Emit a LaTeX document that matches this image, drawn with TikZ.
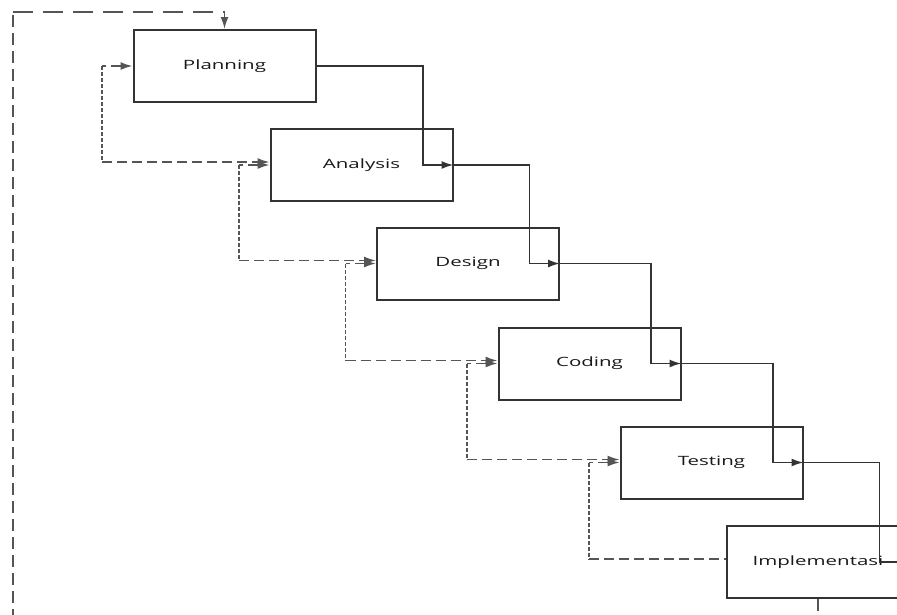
\documentclass[tikz,border=0pt]{standalone}
\usepackage{fontspec}
\setmainfont{Open Sans}
\usetikzlibrary{arrows.meta}
\definecolor{edge}{HTML}{333333}
\definecolor{dash}{HTML}{555555}
\newcommand\widetext[1]{\scalebox{1.6}[1]{#1}}
\tikzset{
  phase/.style={draw=edge, line width=2pt, minimum width=182pt, minimum height=72pt,
    inner sep=0pt, font=\fontsize{12.8pt}{14pt}\selectfont, text=black!90},
  head/.tip={Latex[length=12pt,width=8pt]},
  tip/.style={-head},
  flow/.style={draw=edge, line width=1.8pt, tip},
  fbh/.style={draw=dash, line width=1.7pt, dash pattern=on 10pt off 5pt},
  fbv/.style={draw=dash, line width=1.7pt, dash pattern=on 4pt off 2pt},
  looph/.style={draw=dash, line width=1.9pt, dash pattern=on 20pt off 10pt},
  loopv/.style={draw=dash, line width=1.9pt, dash pattern=on 12pt off 6pt},
}
\begin{document}
\begin{tikzpicture}[x=1pt,y=-1pt]
\useasboundingbox[fill=white] (0,0) rectangle (897,614);
\clip (0,0) rectangle (897,614);

% the six phases
\node[phase] (plan) at (224.5,66)   {\widetext{Planning}};
\node[phase] (ana)  at (361.5,165)  {\widetext{Analysis}};
\node[phase] (des)  at (468,263.5)  {\widetext{Design}};
\node[phase] (cod)  at (589.5,363.5){\widetext{Coding}};
\node[phase] (tes)  at (711.5,462.5){\widetext{Testing}};
\node[phase] (imp)  at (818,562)    {\widetext{Implementasi}};

% forward flow, phase to phase
\foreach \a/\b in {plan/ana, ana/des, des/cod, cod/tes, tes/imp}{
  \draw[flow] (\a.east) -| ([xshift=-30.5pt]\b.east) -- (\b.east);
}

% feedback between neighbouring phases
\foreach \a/\b in {plan/ana, ana/des, des/cod, cod/tes}{
  \draw[fbh,head-] (\a.west) -- ++(-30.5,0) coordinate (k1);
  \draw[fbv] (k1) -- ([yshift=3pt]k1 |- \b.west) coordinate (k2);
  \draw[fbh,tip] (k2) -- ([yshift=3pt]\b.west);
}
\draw[fbh,head-] (tes.west) -- ++(-30.5,0) coordinate (k3);
\draw[fbv] (k3) -- ([yshift=3pt]k3 |- imp.west) coordinate (k4);
\draw[fbh] (k4) -- ([yshift=3pt]imp.west);

% return loop from the last phase back to planning
\coordinate (lowR) at ([yshift=-40pt]imp.south);
\coordinate (lowL) at (13,0 |- lowR);
\coordinate (topL) at (13,12);
\coordinate (topR) at (plan.north |- topL);
\draw[loopv] (imp.south) -- (lowR);
\draw[looph] (lowR) -- (lowL);
\draw[loopv] (lowL) -- (topL);
\draw[looph] (topL) -- (topR);
\draw[draw=dash, line width=1.9pt, tip] (topR) -- (plan.north);
\end{tikzpicture}
\end{document}
